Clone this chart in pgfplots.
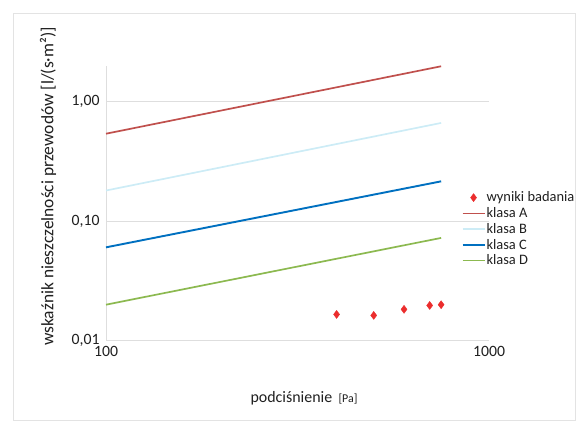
\documentclass[border=0pt]{standalone}
\usepackage{pgfplots}
\pgfplotsset{compat=1.18}
\usepackage{fontspec}
\setmainfont{Carlito}
\definecolor{kA}{RGB}{192,80,77}
\definecolor{kB}{RGB}{205,236,246}
\definecolor{kC}{RGB}{0,112,192}
\definecolor{kD}{RGB}{140,185,80}
\definecolor{pts}{RGB}{235,45,45}
\definecolor{gridc}{RGB}{222,222,222}
\begin{document}
\begin{tikzpicture}
\useasboundingbox (-106bp,-86bp) rectangle (472bp,340bp);
\draw[gray!22, line width=0.6bp] (-93bp,-80bp) rectangle (469bp,327bp);
\begin{axis}[
  at={(0,0)}, anchor=south west,
  scale only axis, width=383bp, height=274bp,
  xmode=log, ymode=log,
  xmin=100, xmax=1000, ymin=0.01, ymax=2,
  xtick={100,1000}, xticklabels={100,1000},
  ytick={0.01,0.1,1}, yticklabels={{0,01},{0,10},{1,00}},
  minor xtick={}, minor ytick={},
  major tick length=0pt, minor tick length=0pt,
  axis x line*=bottom, axis y line*=left,
  axis line style={gridc, line width=0.8bp, -},
  ymajorgrids, major grid style={gridc, line width=0.8bp},
  tick label style={font=\fontsize{15.8}{18}\selectfont, text=black!88},
  xticklabel style={yshift=-3bp},
  yticklabel style={xshift=-3bp},
  /pgf/number format/assume math mode=true,
  label style={font=\fontsize{16}{19}\selectfont, text=black!88},
  xlabel={podciśnienie \,{\fontsize{12}{14}\selectfont [Pa]}},
  xlabel style={at={(axis description cs:0.517,-0.212)}, anchor=center},
  ylabel={wskaźnik nieszczelności przewodów [l/(s·m²)]},
  ylabel style={at={(axis description cs:-0.151,0.56)}, anchor=center, font=\fontsize{17.5}{20}\selectfont},
  clip=false,
  legend style={at={(rel axis cs:0.928,0.545)}, anchor=north west, draw=none, fill=none,
    font=\fontsize{14.5}{17}\selectfont, text=black!88, row sep=2.2bp,
    inner sep=0pt, nodes={inner sep=1pt}},
  legend cell align=left,
  legend image code/.code={\draw[#1] (0bp,0bp) -- (22bp,0bp);},
]
\addplot[only marks, mark=diamond*, mark size=4bp, pts,
  legend image code/.code={\draw[pts, mark=diamond*, mark size=4bp] plot coordinates {(11bp,0bp)};}]
  coordinates {(400,0.0164) (500,0.0161) (600,0.0181) (700,0.0195) (750,0.0198)};
\addlegendentry{wyniki badania}
\addplot[kA, line width=1.7bp, no marks] coordinates {(100,0.54) (750,1.99)};
\addlegendentry{klasa A}
\addplot[kB, line width=1.7bp, no marks] coordinates {(100,0.18) (750,0.665)};
\addlegendentry{klasa B}
\addplot[kC, line width=1.9bp, no marks] coordinates {(100,0.06) (750,0.215)};
\addlegendentry{klasa C}
\addplot[kD, line width=1.7bp, no marks] coordinates {(100,0.0198) (750,0.072)};
\addlegendentry{klasa D}
\end{axis}
\end{tikzpicture}
\end{document}
